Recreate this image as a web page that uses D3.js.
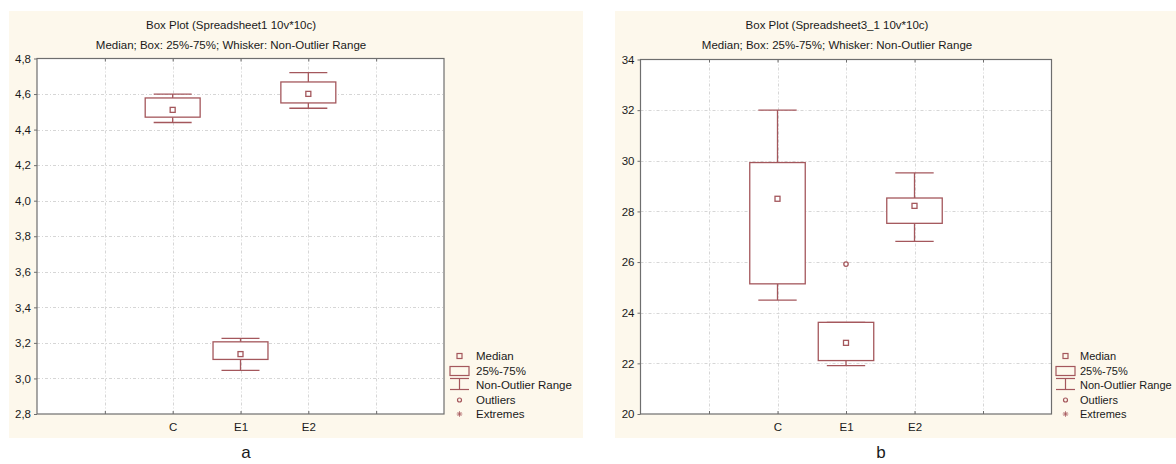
<!DOCTYPE html>
<html>
<head>
<meta charset="utf-8">
<script src="https://cdn.jsdelivr.net/npm/d3@7/dist/d3.min.js"></script>
<style>
  html, body { margin: 0; padding: 0; background: #ffffff; }
  svg { display: block; }
  text { font-family: "Liberation Sans", Arial, sans-serif; fill: #1a1a1a; }
</style>
</head>
<body>
<svg id="chart" width="1176" height="464"></svg>
<script>
// Categories shared by both box plots
const categories = ["C", "E1", "E2"];

// Panel a: Spreadsheet1
const titleA = "Box Plot (Spreadsheet1 10v*10c)";
const whiskerLowA  = [4.440, 3.045, 4.520];
const q1A          = [4.470, 3.107, 4.550];
const medianA      = [4.511, 3.137, 4.601];
const q3A          = [4.578, 3.206, 4.668];
const whiskerHighA = [4.600, 3.225, 4.720];
const outliersA    = [[], [], []];
const yTicksA      = [2.8, 3.0, 3.2, 3.4, 3.6, 3.8, 4.0, 4.2, 4.4, 4.6, 4.8];

// Panel b: Spreadsheet3_1
const titleB = "Box Plot (Spreadsheet3_1 10v*10c)";
const whiskerLowB  = [24.50, 21.91, 26.82];
const q1B          = [25.14, 22.11, 27.53];
const medianB      = [28.50, 22.81, 28.22];
const q3B          = [29.93, 23.62, 28.53];
const whiskerHighB = [32.00, 23.62, 29.52];
const outliersB    = [[], [25.92], []];
const yTicksB      = [20, 22, 24, 26, 28, 30, 32, 34];

const subtitle = "Median; Box: 25%-75%; Whisker: Non-Outlier Range";
const legendItems = ["Median", "25%-75%", "Non-Outlier Range", "Outliers", "Extremes"];
const panelLetters = ["a", "b"];

const boxColor = "#a4575c";
const gridColor = "#d6d6d6";
const frameColor = "#6e6e6e";

const svg = d3.select("#chart");
const commaFmt = d3.formatLocale({ decimal: ",", thousands: ".", grouping: [3], currency: ["", ""] });

function buildRows(lo, a, m, b, hi, out) {
  return categories.map((c, i) => ({
    cat: c, lo: lo[i], q1: a[i], med: m[i], q3: b[i], hi: hi[i], out: out[i]
  }));
}

const panels = [
  {
    title: titleA, rows: buildRows(whiskerLowA, q1A, medianA, q3A, whiskerHighA, outliersA),
    yDomain: [2.8, 4.8], yTicks: yTicksA, fmt: commaFmt.format(".1f"),
    bg: [9, 11, 583, 438], plot: { left: 37, right: 444, top: 58.5, bottom: 414 },
    titleX: 231, legendX: 450, legendTextX: 476, legendFont: 11.5, letterX: 246
  },
  {
    title: titleB, rows: buildRows(whiskerLowB, q1B, medianB, q3B, whiskerHighB, outliersB),
    yDomain: [20, 34], yTicks: yTicksB, fmt: d3.format("d"),
    bg: [615, 11, 1176, 438], plot: { left: 640.5, right: 1051.5, top: 59.5, bottom: 414 },
    titleX: 837, legendX: 1056, legendTextX: 1080, legendFont: 11, letterX: 881
  }
];

panels.forEach((p, pi) => {
  const g = svg.append("g");
  const { left, right, top, bottom } = p.plot;

  // cream panel background
  g.append("rect")
    .attr("x", p.bg[0]).attr("y", p.bg[1])
    .attr("width", p.bg[2] - p.bg[0]).attr("height", p.bg[3] - p.bg[1])
    .attr("fill", "#fdf8ec");

  // plot area
  g.append("rect")
    .attr("x", left).attr("y", top)
    .attr("width", right - left).attr("height", bottom - top)
    .attr("fill", "#ffffff");

  // slots 0..6 across the plot, categories sit at slots 2, 3, 4
  const x = d3.scaleLinear().domain([0, 6]).range([left, right]);
  const slot = i => i + 2;
  const y = d3.scaleLinear().domain(p.yDomain).range([bottom, top]);
  const slotW = x(1) - x(0);
  const boxW = slotW * 0.81;
  const capW = slotW * 0.56;

  // grid
  const grid = g.append("g").attr("stroke", gridColor).attr("stroke-width", 1)
    .attr("stroke-dasharray", "3,2,1,2");
  [1, 2, 3, 4, 5].forEach(v => {
    const xx = Math.round(x(v)) + 0.5;
    grid.append("line").attr("x1", xx).attr("x2", xx).attr("y1", top).attr("y2", bottom);
  });
  p.yTicks.slice(1, -1).forEach(v => {
    const yy = Math.round(y(v)) + 0.5;
    grid.append("line").attr("x1", left).attr("x2", right).attr("y1", yy).attr("y2", yy);
  });

  // axes
  const yAxis = d3.axisLeft(y).tickValues(p.yTicks).tickFormat(p.fmt)
    .tickSizeInner(3).tickSizeOuter(0).tickPadding(3);
  const ga = g.append("g").attr("transform", `translate(${left},0)`).call(yAxis);
  ga.select(".domain").remove();
  ga.selectAll("line").attr("stroke", frameColor);
  ga.selectAll("text").style("font-size", "11.5px").attr("fill", "#1a1a1a");

  const xAxis = d3.axisBottom(x).tickValues([1, 2, 3, 4, 5])
    .tickFormat(v => categories[v - 2] || "")
    .tickSizeInner(-3).tickSizeOuter(0).tickPadding(9);
  const gx = g.append("g").attr("transform", `translate(0,${bottom})`).call(xAxis);
  gx.select(".domain").remove();
  gx.selectAll("line").attr("stroke", frameColor);
  gx.selectAll("text").style("font-size", "11.5px").attr("fill", "#1a1a1a");

  const xTop = d3.axisTop(x).tickValues([1, 2, 3, 4, 5]).tickFormat("")
    .tickSizeInner(-3).tickSizeOuter(0);
  const gt = g.append("g").attr("transform", `translate(0,${top})`).call(xTop);
  gt.select(".domain").remove();
  gt.selectAll("line").attr("stroke", frameColor);

  // frame
  g.append("rect")
    .attr("x", left).attr("y", top)
    .attr("width", right - left).attr("height", bottom - top)
    .attr("fill", "none").attr("stroke", frameColor).attr("stroke-width", 1.2);

  // titles
  g.append("text").attr("x", p.titleX).attr("y", 29).attr("text-anchor", "middle")
    .style("font-size", "11.5px").text(p.title);
  g.append("text").attr("x", p.titleX).attr("y", 48.5).attr("text-anchor", "middle")
    .style("font-size", "11.5px").text(subtitle);

  // boxes
  const bx = g.append("g").attr("stroke", boxColor).attr("fill", "none").attr("stroke-width", 1.3);
  p.rows.forEach((r, i) => {
    const cx = x(slot(i));
    // whisker
    bx.append("line").attr("x1", cx).attr("x2", cx).attr("y1", y(r.hi)).attr("y2", y(r.q3));
    bx.append("line").attr("x1", cx).attr("x2", cx).attr("y1", y(r.q1)).attr("y2", y(r.lo));
    bx.append("line").attr("x1", cx - capW / 2).attr("x2", cx + capW / 2).attr("y1", y(r.hi)).attr("y2", y(r.hi));
    bx.append("line").attr("x1", cx - capW / 2).attr("x2", cx + capW / 2).attr("y1", y(r.lo)).attr("y2", y(r.lo));
    // box
    bx.append("rect").attr("x", cx - boxW / 2).attr("y", y(r.q3))
      .attr("width", boxW).attr("height", y(r.q1) - y(r.q3)).attr("fill", "#ffffff");
    // median
    bx.append("rect").attr("x", cx - 2.5).attr("y", y(r.med) - 2.5).attr("width", 5).attr("height", 5)
      .attr("fill", "#ffffff");
    // outliers
    r.out.forEach(v => {
      bx.append("circle").attr("cx", cx).attr("cy", y(v)).attr("r", 2.2).attr("fill", "#ffffff");
    });
  });

  // legend
  const lx = p.legendX;
  const sx = lx + 9.5;
  const tx = p.legendTextX;
  const rowsY = [356, 371, 385, 400, 414];
  const lg = g.append("g");
  const ls = lg.append("g").attr("stroke", boxColor).attr("fill", "none").attr("stroke-width", 1.2);
  ls.append("rect").attr("x", sx - 2.5).attr("y", rowsY[0] - 2.5).attr("width", 5).attr("height", 5);
  ls.append("rect").attr("x", lx).attr("y", 366.5).attr("width", 19).attr("height", 9);
  ls.append("line").attr("x1", lx).attr("x2", lx + 19).attr("y1", 378.5).attr("y2", 378.5);
  ls.append("line").attr("x1", sx).attr("x2", sx).attr("y1", 378.5).attr("y2", 389.5);
  ls.append("line").attr("x1", lx).attr("x2", lx + 19).attr("y1", 389.5).attr("y2", 389.5);
  ls.append("circle").attr("cx", sx).attr("cy", rowsY[3]).attr("r", 2);
  [0, 45, 90, 135].forEach(a => {
    const rad = a * Math.PI / 180, rr = 2.8;
    ls.append("line").attr("stroke-width", 0.8)
      .attr("x1", sx - rr * Math.cos(rad)).attr("y1", rowsY[4] - rr * Math.sin(rad))
      .attr("x2", sx + rr * Math.cos(rad)).attr("y2", rowsY[4] + rr * Math.sin(rad));
  });
  legendItems.forEach((t, i) => {
    lg.append("text").attr("x", tx).attr("y", rowsY[i] + 4)
      .style("font-size", p.legendFont + "px").text(t);
  });

  // panel letter
  g.append("text").attr("x", p.letterX).attr("y", 458).attr("text-anchor", "middle")
    .style("font-size", "17px").text(panelLetters[pi]);
});
</script>
</body>
</html>
